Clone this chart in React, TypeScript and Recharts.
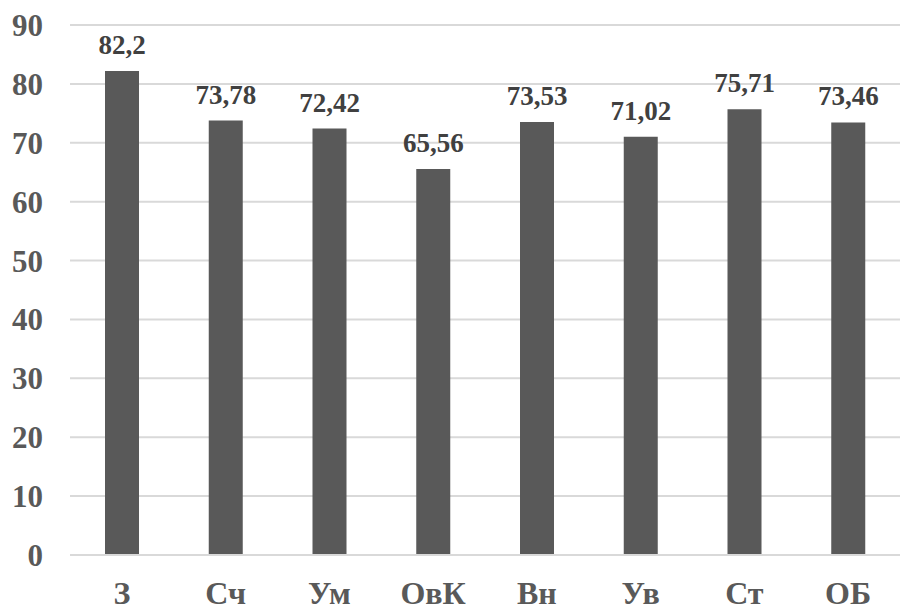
import React from "react";
import { BarChart, Bar, XAxis, YAxis, CartesianGrid, LabelList } from "recharts";

const categories = ["З", "Сч", "Ум", "ОвК", "Вн", "Ув", "Ст", "ОБ"];
const values = [82.2, 73.78, 72.42, 65.56, 73.53, 71.02, 75.71, 73.46];
const yTicks = [0, 10, 20, 30, 40, 50, 60, 70, 80, 90];

const data = categories.map((c, i) => ({ name: c, value: values[i] }));
const font = "Liberation Serif";

const fmt = (v: any) => String(v).replace(".", ",");

export default function App() {
  return (
    <div style={{ position: "absolute", left: 0, top: 0, width: 912, height: 614, background: "#fff", fontFamily: font }}>
      <BarChart width={912} height={614} data={data} margin={{ top: 25, right: 12, left: 0, bottom: 0 }} style={{ fontFamily: font }}>
        <CartesianGrid vertical={false} stroke="#d9d9d9" strokeWidth={2} />
        <XAxis
          dataKey="name"
          axisLine={{ stroke: "#d9d9d9", strokeWidth: 2 }}
          tickLine={false}
          tickSize={0}
          tickMargin={26}
          height={59}
          tick={{ fill: "#595959", fontFamily: font, fontWeight: 700, fontSize: 32 }}
        />
        <YAxis
          domain={[0, 90]}
          ticks={yTicks}
          axisLine={false}
          tickLine={false}
          tickSize={0}
          tickMargin={27}
          width={70}
          tick={{ fill: "#595959", fontFamily: font, fontWeight: 700, fontSize: 31 }}
        />
        <Bar dataKey="value" fill="#595959" barSize={34} isAnimationActive={false}>
          <LabelList
            dataKey="value"
            position="top"
            offset={17}
            formatter={fmt}
            fill="#404040"
            fontFamily={font}
            fontWeight={700}
            fontSize={27}
          />
        </Bar>
      </BarChart>
    </div>
  );
}
